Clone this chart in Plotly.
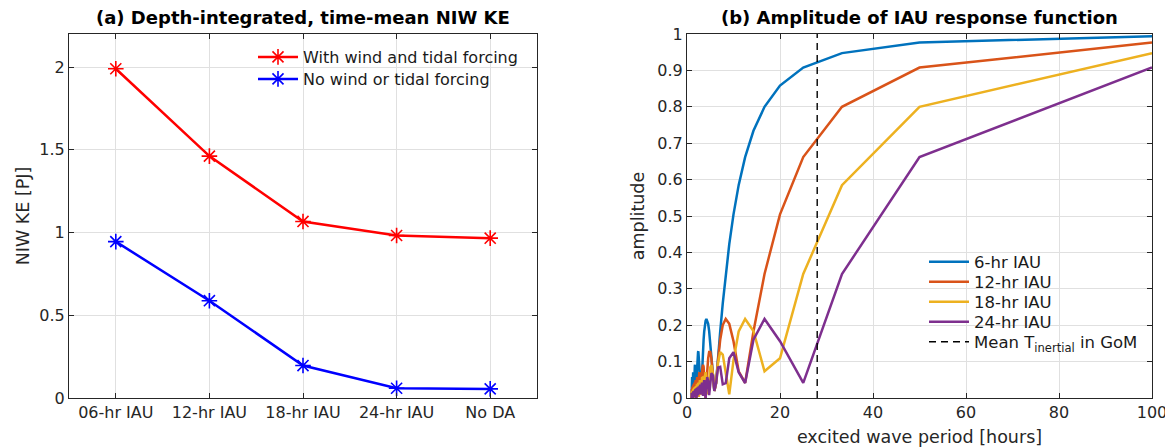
import plotly.graph_objects as go

# ---------------- Panel (a) data ----------------
categories = ["06-hr IAU", "12-hr IAU", "18-hr IAU", "24-hr IAU", "No DA"]
ke_with_forcing = [1.99, 1.462, 1.067, 0.982, 0.966]
ke_no_forcing = [0.945, 0.588, 0.196, 0.059, 0.055]

# ---------------- Panel (b) data ----------------
period_hours = [100, 50, 33.33, 25, 20, 16.67, 14.29, 12.5, 11.11, 10,
                9.09, 8.33, 7.69, 7.14, 6.67, 6.25, 5.88, 5.56, 5.26, 5,
                4.76, 4.55, 4.35, 4.17, 4, 3.85, 3.7, 3.57, 3.45, 3.33,
                3.23, 3.125, 3.03, 2.94, 2.86, 2.78, 2.7, 2.63, 2.56, 2.5,
                2.44, 2.38, 2.33, 2.27, 2.22, 2.17, 2.13, 2.08, 2.04, 2,
                1.96, 1.92, 1.89, 1.85, 1.82, 1.79, 1.75, 1.72, 1.69, 1.67,
                1.64, 1.61, 1.59, 1.56, 1.54, 1.52, 1.49, 1.47, 1.45, 1.43,
                1.41, 1.39, 1.37, 1.35, 1.33, 1.32, 1.3, 1.28, 1.27, 1.25,
                1.23, 1.22, 1.2, 1.19, 1.18, 1.16, 1.15, 1.14, 1.12, 1.11,
                1.1, 1.09, 1.08, 1.06, 1.05, 1.04, 1.03, 1.02, 1.01, 1.0]

amp_6hr = [0.9941, 0.9764, 0.9475, 0.9079, 0.8584, 0.8000, 0.7341, 0.6618, 0.5848, 0.5046,
           0.4226, 0.3406, 0.2601, 0.1826, 0.1093, 0.0416, 0.0196, 0.0733, 0.1189, 0.1559,
           0.1842, 0.2036, 0.2145, 0.2171, 0.2122, 0.2004, 0.1827, 0.1600, 0.1334, 0.1039,
           0.0729, 0.0412, 0.0101, 0.0196, 0.0468, 0.0710, 0.0914, 0.1076, 0.1192, 0.1261,
           0.1284, 0.1261, 0.1195, 0.1091, 0.0954, 0.0789, 0.0605, 0.0407, 0.0203, 0.0,
           0.0195, 0.0376, 0.0536, 0.0672, 0.0780, 0.0857, 0.0901, 0.0913, 0.0892, 0.0841,
           0.0762, 0.0659, 0.0537, 0.0399, 0.0252, 0.0101, 0.0050, 0.0194, 0.0327, 0.0445,
           0.0545, 0.0622, 0.0676, 0.0704, 0.0707, 0.0686, 0.0641, 0.0574, 0.0490, 0.0390,
           0.0279, 0.0161, 0.0040, 0.0079, 0.0193, 0.0297, 0.0389, 0.0464, 0.0522, 0.0561,
           0.0578, 0.0576, 0.0553, 0.0511, 0.0452, 0.0378, 0.0293, 0.0199, 0.0100, 0.0]

amp_12hr = [0.9764, 0.9079, 0.8000, 0.6618, 0.5046, 0.3406, 0.1826, 0.0416, 0.0733, 0.1559,
            0.2036, 0.2171, 0.2004, 0.1600, 0.1039, 0.0412, 0.0196, 0.0710, 0.1076, 0.1261,
            0.1261, 0.1091, 0.0789, 0.0407, 0.0, 0.0376, 0.0672, 0.0857, 0.0913, 0.0841,
            0.0659, 0.0399, 0.0101, 0.0194, 0.0445, 0.0622, 0.0704, 0.0686, 0.0574, 0.0390,
            0.0161, 0.0079, 0.0297, 0.0464, 0.0561, 0.0576, 0.0511, 0.0378, 0.0199, 0.0,
            0.0191, 0.0349, 0.0453, 0.0490, 0.0459, 0.0365, 0.0224, 0.0057, 0.0112, 0.0260,
            0.0367, 0.0420, 0.0414, 0.0350, 0.0240, 0.0100, 0.0050, 0.0188, 0.0296, 0.0360,
            0.0373, 0.0333, 0.0249, 0.0132, 0.0, 0.0128, 0.0236, 0.0308, 0.0335, 0.0315,
            0.0252, 0.0156, 0.0040, 0.0079, 0.0183, 0.0260, 0.0299, 0.0296, 0.0252, 0.0173,
            0.0072, 0.0036, 0.0137, 0.0217, 0.0266, 0.0276, 0.0247, 0.0185, 0.0099, 0.0]

amp_18hr = [0.9475, 0.8000, 0.5848, 0.3406, 0.1093, 0.0733, 0.1842, 0.2171, 0.1827, 0.1039,
            0.0101, 0.0710, 0.1192, 0.1261, 0.0954, 0.0407, 0.0195, 0.0672, 0.0901, 0.0841,
            0.0537, 0.0101, 0.0327, 0.0622, 0.0707, 0.0574, 0.0279, 0.0079, 0.0389, 0.0561,
            0.0553, 0.0378, 0.0100, 0.0191, 0.0409, 0.0490, 0.0419, 0.0224, 0.0028, 0.0260,
            0.0401, 0.0414, 0.0300, 0.0100, 0.0121, 0.0296, 0.0373, 0.0333, 0.0193, 0.0,
            0.0186, 0.0308, 0.0331, 0.0252, 0.0099, 0.0079, 0.0226, 0.0299, 0.0279, 0.0173,
            0.0018, 0.0137, 0.0246, 0.0276, 0.0220, 0.0099, 0.0049, 0.0178, 0.0248, 0.0240,
            0.0159, 0.0031, 0.0103, 0.0202, 0.0236, 0.0196, 0.0098, 0.0028, 0.0143, 0.0210,
            0.0211, 0.0148, 0.0040, 0.0077, 0.0168, 0.0205, 0.0178, 0.0097, 0.0012, 0.0115,
            0.0181, 0.0189, 0.0139, 0.0047, 0.0058, 0.0142, 0.0181, 0.0163, 0.0096, 0.0]

amp_24hr = [0.9079, 0.6618, 0.3406, 0.0416, 0.1559, 0.2171, 0.1600, 0.0412, 0.0710, 0.1261,
            0.1091, 0.0407, 0.0376, 0.0857, 0.0841, 0.0399, 0.0194, 0.0622, 0.0686, 0.0390,
            0.0079, 0.0464, 0.0576, 0.0378, 0.0, 0.0349, 0.0490, 0.0365, 0.0057, 0.0260,
            0.0420, 0.0350, 0.0100, 0.0188, 0.0360, 0.0333, 0.0132, 0.0128, 0.0308, 0.0315,
            0.0156, 0.0079, 0.0260, 0.0296, 0.0173, 0.0036, 0.0217, 0.0276, 0.0185, 0.0,
            0.0178, 0.0255, 0.0193, 0.0031, 0.0142, 0.0233, 0.0196, 0.0057, 0.0108, 0.0210,
            0.0197, 0.0079, 0.0077, 0.0188, 0.0194, 0.0097, 0.0049, 0.0165, 0.0189, 0.0111,
            0.0023, 0.0142, 0.0181, 0.0123, 0.0, 0.0119, 0.0172, 0.0131, 0.0021, 0.0097,
            0.0161, 0.0137, 0.0040, 0.0076, 0.0148, 0.0140, 0.0056, 0.0055, 0.0135, 0.0140,
            0.0070, 0.0036, 0.0120, 0.0139, 0.0082, 0.0017, 0.0105, 0.0135, 0.0092, 0.0]

inertial_period = 28
inertial_span = [0, 1]

series_b = [
    ("6-hr IAU", amp_6hr, "#0072BD"),
    ("12-hr IAU", amp_12hr, "#D95319"),
    ("18-hr IAU", amp_18hr, "#EDB120"),
    ("24-hr IAU", amp_24hr, "#7E2F8E"),
]

FONT = "DejaVu Sans"
AX = "#262626"
GRID = "#e0e0e0"

# the page body adds an 8px margin, so the figure is shifted by OFF
OFF = 8
W, H = 1173 - OFF, 447 - OFF


def px(x):
    return (x - OFF) / W


def py(y):
    return 1 - (y - OFF) / H


fig = go.Figure()

fig.add_trace(go.Scatter(
    x=categories, y=ke_with_forcing, mode="lines+markers",
    name="With wind and tidal forcing",
    line=dict(color="#FF0000", width=2.5),
    marker=dict(symbol="asterisk-open", size=13, line=dict(color="#FF0000", width=1.6)),
    xaxis="x", yaxis="y", legend="legend"))
fig.add_trace(go.Scatter(
    x=categories, y=ke_no_forcing, mode="lines+markers",
    name="No wind or tidal forcing",
    line=dict(color="#0000FF", width=2.5),
    marker=dict(symbol="asterisk-open", size=13, line=dict(color="#0000FF", width=1.6)),
    xaxis="x", yaxis="y", legend="legend2"))

for i, (name, vals, col) in enumerate(series_b):
    fig.add_trace(go.Scatter(
        x=period_hours, y=vals, mode="lines", name=name,
        line=dict(color=col, width=2.5),
        xaxis="x2", yaxis="y2", legend="legend%d" % (i + 3)))

fig.add_trace(go.Scatter(
    x=[inertial_period, inertial_period], y=inertial_span, mode="lines",
    name="Mean T<sub>inertial</sub> in GoM",
    line=dict(color="#000000", width=1.4, dash="7px,5px"),
    xaxis="x2", yaxis="y2", legend="legend7"))

yd = [py(398), py(34)]

axis_common = dict(
    showline=True, linecolor=AX, linewidth=1, mirror="ticks",
    ticks="inside", ticklen=5, tickcolor=AX, tickwidth=1,
    showgrid=True, gridcolor=GRID, gridwidth=1, zeroline=False,
    automargin=False,
    tickfont=dict(family=FONT, size=16, color=AX),
)


def leg(xpx, ypx, size):
    return dict(x=px(xpx), y=py(ypx), xanchor="left", yanchor="middle",
                xref="paper", yref="paper",
                bgcolor="rgba(0,0,0,0)", borderwidth=0, itemwidth=40,
                font=dict(family=FONT, size=size, color="#1a1a1a"))


fig.update_layout(
    width=W, height=H,
    margin=dict(l=0, r=0, t=0, b=0, autoexpand=False),
    paper_bgcolor="white", plot_bgcolor="white",
    font=dict(family=FONT, size=16, color=AX),
    xaxis=dict(domain=[px(69), px(537)], anchor="y", type="category",
               range=[-0.5, 4.5], **axis_common),
    yaxis=dict(domain=yd, anchor="x", range=[0, 2.2],
               tickvals=[0, 0.5, 1, 1.5, 2], ticktext=["0", "0.5", "1", "1.5", "2"],
               title=dict(text="NIW KE [PJ]", font=dict(family=FONT, size=17.5, color=AX), standoff=5),
               **axis_common),
    xaxis2=dict(domain=[px(687), px(1152)], anchor="y2", range=[0, 100],
                tickvals=[0, 20, 40, 60, 80, 100],
                title=dict(text="excited wave period [hours]", font=dict(family=FONT, size=17.5, color=AX), standoff=11),
                **axis_common),
    yaxis2=dict(domain=yd, anchor="x2", range=[0, 1],
                tickvals=[0, 0.1, 0.2, 0.3, 0.4, 0.5, 0.6, 0.7, 0.8, 0.9, 1],
                ticktext=["0", "0.1", "0.2", "0.3", "0.4", "0.5", "0.6", "0.7", "0.8", "0.9", "1"],
                title=dict(text="amplitude", font=dict(family=FONT, size=17.5, color=AX), standoff=8),
                **axis_common),
    legend=leg(253, 57, 16),
    legend2=leg(253, 79, 16),
    legend3=leg(924, 262, 16.5),
    legend4=leg(924, 282, 16.5),
    legend5=leg(924, 302, 16.5),
    legend6=leg(924, 322, 16.5),
    legend7=leg(924, 342, 16.5),
    showlegend=True,
    annotations=[
        dict(text="<b>(a) Depth-integrated, time-mean NIW KE</b>", x=px(303), y=py(18),
             xref="paper", yref="paper", showarrow=False, xanchor="center", yanchor="middle",
             font=dict(family=FONT, size=18, color="#000000")),
        dict(text="<b>(b) Amplitude of IAU response function</b>", x=px(919), y=py(18),
             xref="paper", yref="paper", showarrow=False, xanchor="center", yanchor="middle",
             font=dict(family=FONT, size=18, color="#000000")),
    ],
)

fig.write_html("out.html")
